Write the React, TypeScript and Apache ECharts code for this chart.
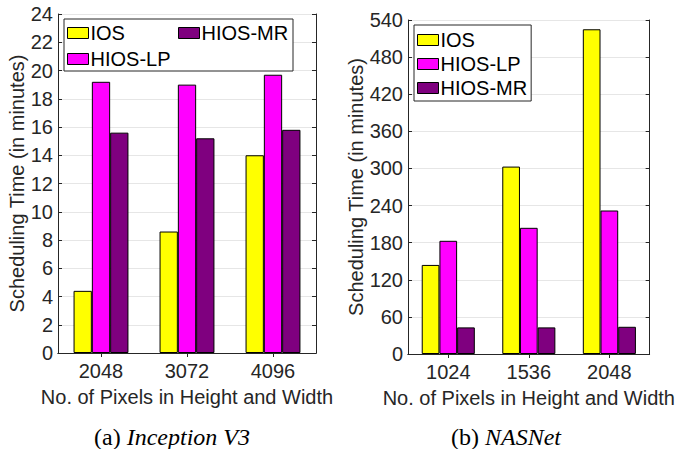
import React, { useEffect, useRef } from "react";
import * as echarts from "echarts";

const leftCategories = ["2048", "3072", "4096"];
const rightCategories = ["1024", "1536", "2048"];
const seriesNames = ["IOS", "HIOS-LP", "HIOS-MR"];
const leftIOS = [4.4, 8.6, 14.0];
const leftLP = [19.2, 19.0, 19.7];
const leftMR = [15.6, 15.2, 15.8];
const rightIOS = [144, 303, 525];
const rightLP = [183, 204, 232];
const rightMR = [43, 43, 44];
const captions = ["Inception V3", "NASNet"];

const COLORS = ["#ffff00", "#ff00ff", "#7f007f"];
const FONT = "'Liberation Sans', Arial, Helvetica, sans-serif";
const AXIS = "#262626";

export default function App() {
  const ref = useRef<HTMLDivElement>(null);
  useEffect(() => {
    if (!ref.current) return;
    const chart = echarts.init(ref.current, undefined, { renderer: "svg" });

    const grids = [
      { left: 58, top: 14, width: 258, height: 339 },
      { left: 408, top: 20, width: 243, height: 334 },
    ];

    const mkX = (gi: number, data: string[]) => [
      {
        type: "category",
        gridIndex: gi,
        data,
        position: "bottom",
        name: "No. of Pixels in Height and Width",
        nameLocation: "middle",
        nameGap: 34,
        nameTextStyle: { fontFamily: FONT, fontSize: 20, color: AXIS },
        axisLine: { show: true, lineStyle: { color: AXIS, width: 1 } },
        axisTick: { show: true, inside: true, length: 4, alignWithLabel: true, lineStyle: { color: AXIS } },
        axisLabel: { fontFamily: FONT, fontSize: 20, color: AXIS, margin: 8 },
        splitLine: { show: false },
      },
      {
        type: "category",
        gridIndex: gi,
        data,
        position: "top",
        axisLine: { show: true, lineStyle: { color: AXIS, width: 1 } },
        axisTick: { show: true, inside: true, length: 4, alignWithLabel: true, lineStyle: { color: AXIS } },
        axisLabel: { show: false },
        splitLine: { show: false },
      },
    ];

    const mkY = (gi: number, max: number, interval: number, gap: number) => [
      {
        type: "value",
        gridIndex: gi,
        min: 0,
        max,
        interval,
        position: "left",
        name: "Scheduling Time (in minutes)",
        nameLocation: "middle",
        nameGap: gap,
        nameRotate: 90,
        nameTextStyle: { fontFamily: FONT, fontSize: 20, color: AXIS },
        axisLine: { show: true, lineStyle: { color: AXIS, width: 1 } },
        axisTick: { show: true, inside: true, length: 4, lineStyle: { color: AXIS } },
        axisLabel: { fontFamily: FONT, fontSize: 20, color: AXIS, margin: 5 },
        splitLine: { show: true, lineStyle: { color: "#e6e6e6", width: 1 } },
      },
      {
        type: "value",
        gridIndex: gi,
        min: 0,
        max,
        interval,
        position: "right",
        axisLine: { show: true, lineStyle: { color: AXIS, width: 1 } },
        axisTick: { show: true, inside: true, length: 4, lineStyle: { color: AXIS } },
        axisLabel: { show: false },
        splitLine: { show: false },
      },
    ];

    const leftData = [leftIOS, leftLP, leftMR];
    const rightData = [rightIOS, rightLP, rightMR];

    const series: any[] = [];
    seriesNames.forEach((name, i) => {
      series.push({
        type: "bar",
        name,
        xAxisIndex: 0,
        yAxisIndex: 0,
        data: leftData[i],
        barWidth: 18.3,
        barGap: "0%",
        itemStyle: { color: COLORS[i], borderColor: "#000", borderWidth: 1 },
      });
    });
    seriesNames.forEach((name, i) => {
      series.push({
        type: "bar",
        name,
        xAxisIndex: 2,
        yAxisIndex: 2,
        data: rightData[i],
        barWidth: 17.7,
        barGap: "0%",
        itemStyle: { color: COLORS[i], borderColor: "#000", borderWidth: 1 },
      });
    });

    const legendCommon = {
      orient: "vertical",
      icon: "rect",
      itemWidth: 21,
      itemHeight: 11,
      textStyle: { fontFamily: FONT, fontSize: 20, color: "#000", padding: [0, 0, 0, -3] },
      itemStyle: { borderColor: "#000", borderWidth: 1 },
      selectedMode: false,
      z: 5,
    };

    chart.setOption({
      animation: false,
      grid: grids,
      xAxis: [...mkX(0, leftCategories), ...mkX(1, rightCategories)],
      yAxis: [...mkY(0, 24, 2, 30), ...mkY(1, 540, 60, 40)],
      legend: [
        { ...legendCommon, data: ["IOS", "HIOS-LP"], left: 67, top: 23, padding: 0, itemGap: 6 },
        { ...legendCommon, data: ["HIOS-MR"], left: 178, top: 23, padding: 0 },
        {
          ...legendCommon,
          data: ["IOS", "HIOS-LP", "HIOS-MR"],
          left: 414,
          top: 25,
          padding: [5, 4, 3, 3],
          itemGap: 4,
          backgroundColor: "#fff",
          borderColor: AXIS,
          borderWidth: 1,
        },
      ],
      graphic: [
        {
          type: "rect",
          z: 3,
          shape: { x: 64, y: 19, width: 229, height: 52 },
          style: { fill: "#fff", stroke: AXIS, lineWidth: 1 },
        },
        {
          type: "text",
          x: 172,
          y: 437,
          style: {
            text: "{n|(a) }{i|" + captions[0] + "}",
            align: "center",
            verticalAlign: "middle",
            rich: {
              n: { fontFamily: "'Liberation Serif', 'Times New Roman', serif", fontSize: 24, fill: "#000" },
              i: { fontFamily: "'Liberation Serif', 'Times New Roman', serif", fontSize: 24, fontStyle: "italic", fill: "#000" },
            },
          },
        },
        {
          type: "text",
          x: 506,
          y: 437,
          style: {
            text: "{n|(b) }{i|" + captions[1] + "}",
            align: "center",
            verticalAlign: "middle",
            rich: {
              n: { fontFamily: "'Liberation Serif', 'Times New Roman', serif", fontSize: 24, fill: "#000" },
              i: { fontFamily: "'Liberation Serif', 'Times New Roman', serif", fontSize: 24, fontStyle: "italic", fill: "#000" },
            },
          },
        },
      ],
      series,
    });

    return () => chart.dispose();
  }, []);

  return (
    <div
      ref={ref}
      style={{ position: "fixed", left: 0, top: 0, width: 678, height: 449, background: "#fff" }}
    />
  );
}
